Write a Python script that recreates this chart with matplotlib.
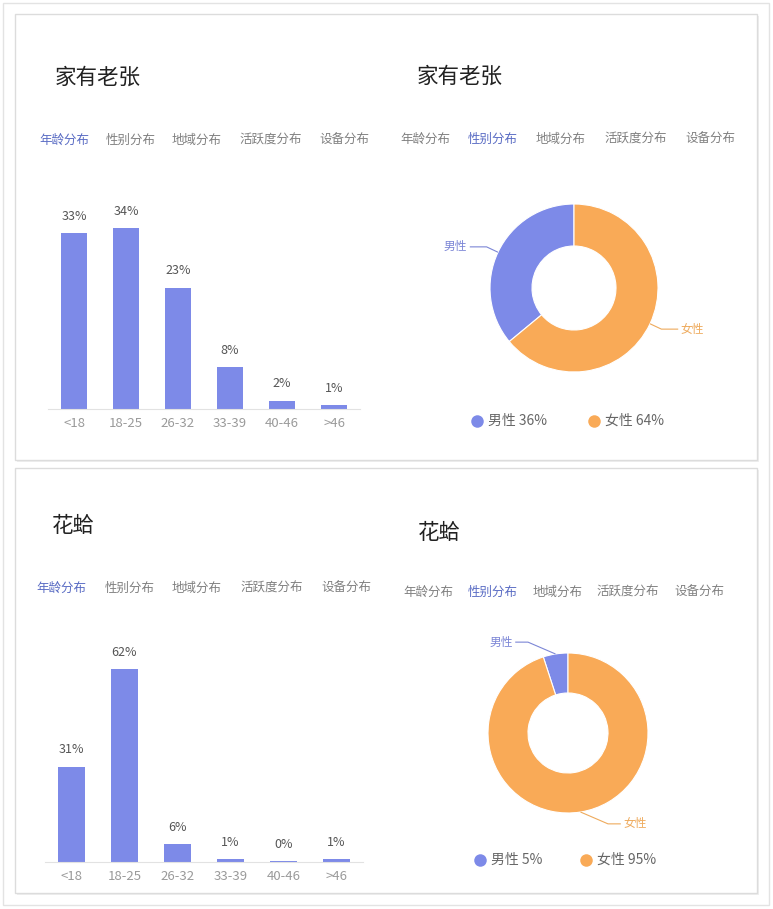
import matplotlib
matplotlib.use("Agg")
import matplotlib.pyplot as plt
from matplotlib.patches import Rectangle
import numpy as np

plt.rcParams['font.family'] = ['Noto Sans CJK SC', 'DejaVu Sans']

# data
age_groups = ["<18", "18-25", "26-32", "33-39", "40-46", ">46"]
top_age = [33.2, 34.1, 22.9, 7.9, 1.6, 0.7]      # 家有老张
bottom_age = [30.8, 62.2, 5.9, 0.9, 0.3, 0.9]    # 花蛤
genders = ["男性", "女性"]
top_gender = [36, 64]
bottom_gender = [5, 95]
titles = ["家有老张", "花蛤"]
tabs = ["年龄分布", "性别分布", "地域分布", "活跃度分布", "设备分布"]

BLUE = "#7d8ae8"
ORANGE = "#f9aa57"
TAB_BLUE = "#5a6cc4"
W, H = 773, 909

fig = plt.figure(figsize=(W / 100, H / 100), dpi=100)
fig.patch.set_facecolor("white")

bg = fig.add_axes([0, 0, 1, 1])
bg.set_xlim(0, W)
bg.set_ylim(H, 0)
bg.axis("off")


def px_axes(x0, y0, x1, y1):
    return fig.add_axes([x0 / W, 1 - y1 / H, (x1 - x0) / W, (y1 - y0) / H])


# outer frame and cards
bg.add_patch(Rectangle((3, 3), 766, 902, fill=False, ec="#e3e3e3", lw=1))
for (x0, y0, x1, y1) in [(15, 14, 757, 460), (15, 468, 757, 893)]:
    bg.add_patch(Rectangle((x0 + 2, y0 + 2), x1 - x0, y1 - y0, fc="#efefef", ec="none"))
    bg.add_patch(Rectangle((x0, y0), x1 - x0, y1 - y0, fc="white", ec="#dcdcdc", lw=1))

# titles
bg.text(55, 78, titles[0], fontsize=15.5, color="#222222", va="center")
bg.text(417, 77, titles[0], fontsize=15.5, color="#222222", va="center")
bg.text(52, 526, titles[1], fontsize=15.5, color="#222222", va="center")
bg.text(418, 533, titles[1], fontsize=15.5, color="#222222", va="center")

# tab rows: (y, x starts, active index)
tab_rows = [
    (140, [39, 106, 172, 239, 319], 0),
    (139, [400, 468, 536, 604, 685], 1),
    (588, [36, 105, 172, 240, 321], 0),
    (592, [403, 468, 533, 596, 674], 1),
]
for y, xs, active in tab_rows:
    for i, (x, t) in enumerate(zip(xs, tabs)):
        bg.text(x, y, t, fontsize=9, va="center", ha="left",
                color=TAB_BLUE if i == active else "#808080")


def bar_chart(box, values, ymax):
    ax = px_axes(*box)
    x = np.arange(len(values))
    ax.bar(x, values, width=0.5, color=BLUE)
    for xi, v in zip(x, values):
        ax.annotate(f"{v:.0f}%", (xi, v), xytext=(0, 12), textcoords="offset points",
                    ha="center", va="center", fontsize=9, color="#555555")
    ax.set_xlim(-0.5, len(values) - 0.5)
    ax.set_ylim(0, ymax)
    ax.set_xticks(x)
    ax.set_xticklabels(age_groups, fontsize=9.5, color="#9a9a9a")
    ax.set_yticks([])
    for s in ["top", "left", "right"]:
        ax.spines[s].set_visible(False)
    ax.spines["bottom"].set_color("#e2e2e2")
    ax.tick_params(axis="x", length=0, pad=6)
    ax.patch.set_alpha(0)


bar_chart((48, 189, 360, 409), top_age, 41.5)
bar_chart((45, 642, 363, 862), bottom_age, 71)


def donut(cx, cy, r, values, min_dx, seg):
    ext = 1.6
    ax = px_axes(cx - ext * r, cy - ext * r, cx + ext * r, cy + ext * r)
    wedges, _ = ax.pie(values, colors=[BLUE, ORANGE], startangle=90, counterclock=True,
                       radius=1, wedgeprops=dict(width=0.5, edgecolor="white", linewidth=0.8))
    ax.set_xlim(-ext, ext)
    ax.set_ylim(-ext, ext)
    ax.set_aspect("equal")
    ax.axis("off")
    for w, name, col in zip(wedges, genders, ["#7c86d6", "#eeaa5c"]):
        mid = np.deg2rad((w.theta1 + w.theta2) / 2)
        sx, sy = np.cos(mid), np.sin(mid)
        ex, ey = 1.15 * sx, 1.15 * sy
        side = 1 if sx >= 0 else -1
        ex = side * max(abs(ex), min_dx)
        hx = ex + side * seg
        ax.plot([sx, ex, hx], [sy, ey, ey], color=col, lw=0.8, solid_capstyle="butt")
        ax.text(hx + side * 0.03, ey, name, fontsize=8.5, color=col, va="center",
                ha="left" if side > 0 else "right")


donut(574, 288, 84, top_gender, 0.5, 0.2)
donut(568, 733, 80, bottom_gender, 0.5, 0.16)

# legends
legend_rows = [
    (421, [477, 594], top_gender),
    (860, [480, 586], bottom_gender),
]
for y, xs, vals in legend_rows:
    for x, name, v, col in zip(xs, genders, vals, [BLUE, ORANGE]):
        bg.plot([x], [y], "o", ms=9, color=col, mec="none")
        bg.text(x + 11, y, f"{name} {v}%", fontsize=10, color="#666666", va="center", ha="left")

fig.savefig("out.png", dpi=100, facecolor="white")
